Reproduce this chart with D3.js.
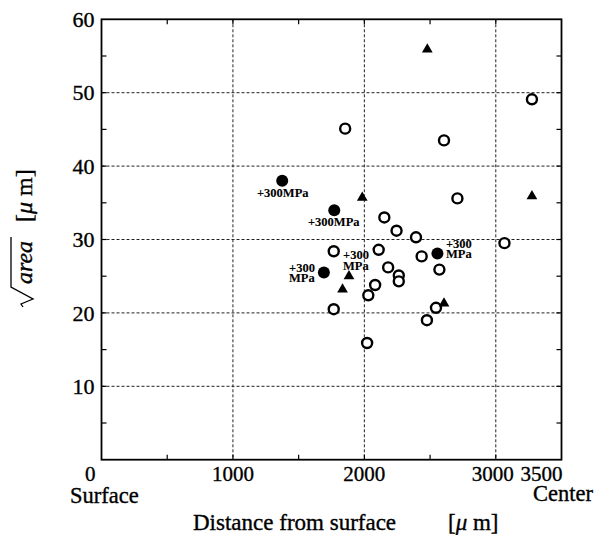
<!DOCTYPE html>
<html>
<head>
<meta charset="utf-8">
<script src="https://cdn.jsdelivr.net/npm/d3@7"></script>
<style>
  body { margin: 0; background: #fff; }
  text { font-family: "Liberation Serif", "DejaVu Serif", serif; fill: #000; stroke: #000; stroke-width: 0.35px; }
</style>
</head>
<body>
<script>
// Open circles
const openX = [3275, 1854, 2606, 2708, 2152, 2245, 2393, 3066, 1767, 2109, 2436,
               2181, 2571, 2262, 2262, 2082, 2030, 1767, 2545, 2476, 2021];
const openY = [49.1, 45.1, 43.5, 35.6, 33.0, 31.2, 30.3, 29.5, 28.4, 28.6, 27.7,
               26.2, 25.9, 25.1, 24.3, 23.8, 22.4, 20.5, 20.7, 19.0, 15.9];

// Filled circles
const filledX = [1375, 1771, 1692, 2556];
const filledY = [38.0, 34.0, 25.5, 28.1];

// Triangles
const triX = [2479, 1984, 3275, 1883, 1834, 2606];
const triY = [55.9, 35.7, 35.9, 25.0, 23.2, 21.3];

// Annotations (text anchor in data units, lines of text)
const annX = [1183, 1571, 1427, 1838, 2621];
const annY = [35.8, 31.9, 25.6, 27.3, 28.85];
const annText = [["+300MPa"], ["+300MPa"], ["+300", "MPa"], ["+300", "MPa"], ["+300", "MPa"]];

// Tick labels
const xTickValues = [0, 1000, 2000, 3000, 3500];
const yTickValues = [10, 20, 30, 40, 50, 60];

const width = 594, height = 535;
const plotLeft = 101.5, plotRight = 561.5, plotTop = 19.3, plotBottom = 459.7;

const x = d3.scaleLinear().domain([0, 3500]).range([plotLeft, plotRight]);
const y = d3.scaleLinear().domain([0, 60]).range([plotBottom, plotTop]);

const svg = d3.select("body").append("svg")
    .attr("xmlns", "http://www.w3.org/2000/svg")
    .attr("width", width)
    .attr("height", height);

svg.append("rect")
    .attr("width", width)
    .attr("height", height)
    .attr("fill", "white");

// Dotted grid
svg.append("g")
    .selectAll("line")
    .data([1000, 2000, 3000])
    .join("line")
    .attr("x1", d => x(d)).attr("x2", d => x(d))
    .attr("y1", plotTop).attr("y2", plotBottom)
    .attr("stroke", "#222").attr("stroke-width", 1)
    .attr("stroke-dasharray", "3,2");

svg.append("g")
    .selectAll("line")
    .data([10, 20, 30, 40, 50])
    .join("line")
    .attr("x1", plotLeft).attr("x2", plotRight)
    .attr("y1", d => y(d)).attr("y2", d => y(d))
    .attr("stroke", "#222").attr("stroke-width", 1)
    .attr("stroke-dasharray", "3,2");

// Inward ticks on all four sides
const ticks = svg.append("g").attr("stroke", "#000").attr("stroke-width", 1.2);
d3.range(500, 3500, 500).forEach(d => {
    ticks.append("line").attr("x1", x(d)).attr("x2", x(d)).attr("y1", plotBottom).attr("y2", plotBottom - 5);
    ticks.append("line").attr("x1", x(d)).attr("x2", x(d)).attr("y1", plotTop).attr("y2", plotTop + 5);
});
d3.range(5, 60, 5).forEach(d => {
    ticks.append("line").attr("x1", plotLeft).attr("x2", plotLeft + 5).attr("y1", y(d)).attr("y2", y(d));
    ticks.append("line").attr("x1", plotRight).attr("x2", plotRight - 5).attr("y1", y(d)).attr("y2", y(d));
});

// Frame
svg.append("rect")
    .attr("x", plotLeft).attr("y", plotTop)
    .attr("width", plotRight - plotLeft).attr("height", plotBottom - plotTop)
    .attr("fill", "none")
    .attr("stroke", "#000")
    .attr("stroke-width", 1.8);

// Y tick labels
svg.append("g")
    .selectAll("text")
    .data(yTickValues)
    .join("text")
    .attr("x", plotLeft - 7)
    .attr("y", d => y(d))
    .attr("dy", "0.35em")
    .attr("text-anchor", "end")
    .attr("font-size", 22)
    .text(d => d);

// X tick labels
svg.append("g")
    .selectAll("text")
    .data(xTickValues)
    .join("text")
    .attr("x", d => d === 0 ? x(d) - 6 : d === 3500 ? x(d) + 1 : d === 3000 ? x(d) - 3 : x(d))
    .attr("y", 481)
    .attr("text-anchor", d => d === 0 || d === 3500 ? "end" : "middle")
    .attr("font-size", 21)
    .text(d => d);

svg.append("text")
    .attr("x", 70).attr("y", 503)
    .attr("font-size", 22.5)
    .text("Surface");

svg.append("text")
    .attr("x", 593).attr("y", 501)
    .attr("text-anchor", "end")
    .attr("font-size", 22.5)
    .text("Center");

// X axis title
svg.append("text")
    .attr("x", 193).attr("y", 530)
    .attr("font-size", 23)
    .text("Distance from surface");

const xUnit = svg.append("text")
    .attr("x", 448).attr("y", 530)
    .attr("font-size", 23);
xUnit.append("tspan").text("[");
xUnit.append("tspan").attr("font-style", "italic").text("\u03bc");
xUnit.append("tspan").text(" m]");

// Y axis title: sqrt(area) [μ m], rotated
const yTitle = svg.append("g")
    .attr("transform", "translate(32,307) rotate(-90)");

yTitle.append("path")
    .attr("d", "M0,-9 L3,-11 L8,1 L20,-21 L70,-21")
    .attr("fill", "none")
    .attr("stroke", "#000")
    .attr("stroke-width", 1.3);

yTitle.append("text")
    .attr("x", 23).attr("y", 0)
    .attr("font-size", 24)
    .attr("font-style", "italic")
    .text("area");

const yUnit = yTitle.append("text")
    .attr("x", 85).attr("y", 0)
    .attr("font-size", 24);
yUnit.append("tspan").text("[");
yUnit.append("tspan").attr("font-style", "italic").text("\u03bc");
yUnit.append("tspan").text(" m]");

// Open circles
svg.append("g")
    .selectAll("circle")
    .data(openX.map((d, i) => [d, openY[i]]))
    .join("circle")
    .attr("cx", d => x(d[0]))
    .attr("cy", d => y(d[1]))
    .attr("r", 5)
    .attr("fill", "white")
    .attr("stroke", "#000")
    .attr("stroke-width", 2.4);

// Filled circles
svg.append("g")
    .selectAll("circle")
    .data(filledX.map((d, i) => [d, filledY[i]]))
    .join("circle")
    .attr("cx", d => x(d[0]))
    .attr("cy", d => y(d[1]))
    .attr("r", 6)
    .attr("fill", "#000");

// Triangles
svg.append("g")
    .selectAll("path")
    .data(triX.map((d, i) => [d, triY[i]]))
    .join("path")
    .attr("transform", d => `translate(${x(d[0])},${y(d[1])})`)
    .attr("d", d3.symbol(d3.symbolTriangle, 50))
    .attr("fill", "#000");

// +300MPa annotations
const ann = svg.append("g")
    .selectAll("text")
    .data(annText.map((d, i) => ({ lines: d, x: annX[i], y: annY[i] })))
    .join("text")
    .attr("x", d => x(d.x))
    .attr("y", d => y(d.y))
    .attr("font-size", 12.5)
    .attr("font-weight", "bold")
    .style("stroke-width", "0.1px");

ann.selectAll("tspan")
    .data(d => d.lines.map(l => ({ l, x: x(d.x) })))
    .join("tspan")
    .attr("x", d => d.x)
    .attr("dy", (d, i) => i === 0 ? 0 : 10.5)
    .text(d => d.l);
</script>
</body>
</html>
